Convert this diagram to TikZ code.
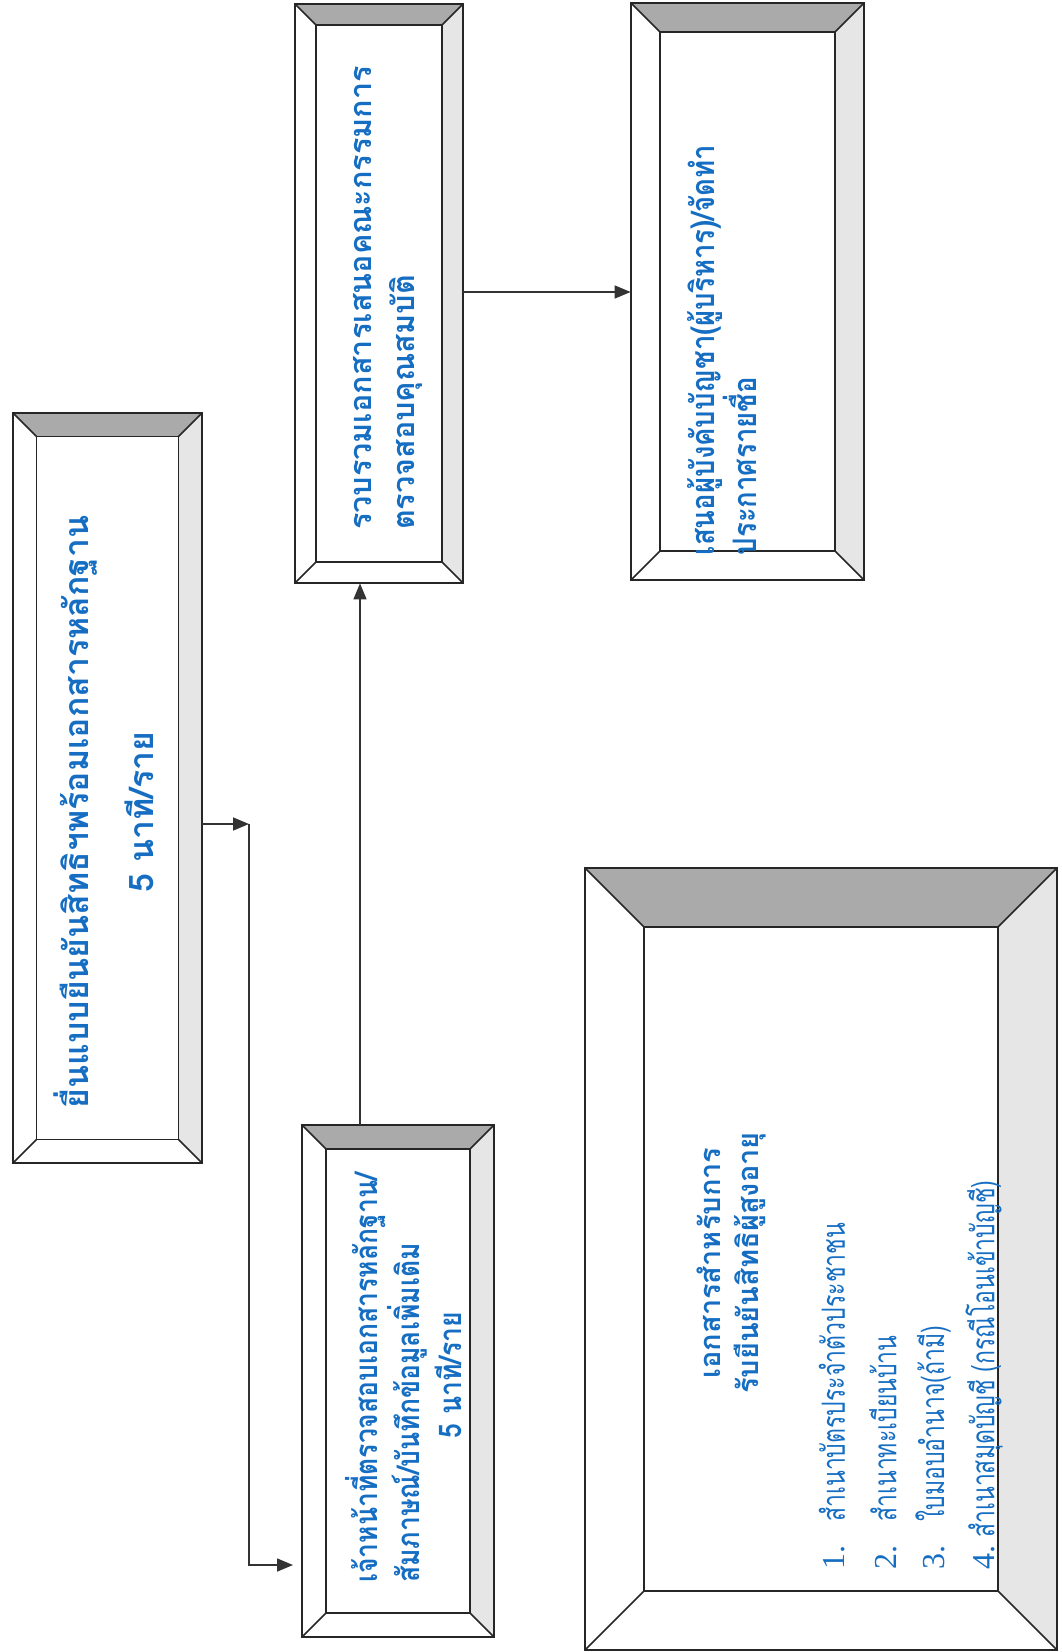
\documentclass[tikz,border=0pt]{standalone}
\usepackage{fontspec}
\newfontfamily\thai[Script=Thai]{Loma}
\newfontfamily\thain[Script=Thai,FakeStretch=0.85]{Loma}
\newfontfamily\thainn[Script=Thai,FakeStretch=0.72]{Loma}
\newfontfamily\numfont{Liberation Serif}
\usetikzlibrary{arrows.meta,fit,calc}

\definecolor{txtblue}{RGB}{22,110,195}
\definecolor{bevtop}{RGB}{170,170,170}
\definecolor{bevright}{RGB}{230,230,230}

% bold Thai text of a given size and line skip
\newcommand{\tb}[2]{\thai\bfseries\fontsize{#1}{#2}\selectfont}
\newcommand{\tbn}[2]{\thain\bfseries\fontsize{#1}{#2}\selectfont}

\tikzset{
  boxline/.style={draw=black!85, line width=0.8pt},
  txt/.style={rotate=90, text=txtblue, inner sep=0},
  listtxt/.style={rotate=90, text=txtblue, inner sep=0, anchor=west,
    font=\thainn\fontsize{16}{18}\selectfont},
  arr/.style={draw=black!80, line width=0.8pt,
    -{Triangle[length=8pt,width=6.5pt]}}
}

% bevel box: name, x1, y1, x2, y2 (pixels, y downwards)
\newcommand{\bevelbox}[5]{%
  \pgfmathsetmacro{\bw}{0.125*min(#4-#2,#5-#3)}
  \fill[white] (#2,#3) rectangle (#4,#5);
  \fill[bevtop] (#2,#3) -- (#4,#3) -- (#4-\bw,#3+\bw) -- (#2+\bw,#3+\bw) -- cycle;
  \fill[bevright] (#4,#3) -- (#4,#5) -- (#4-\bw,#5-\bw) -- (#4-\bw,#3+\bw) -- cycle;
  \draw[boxline] (#2,#3) rectangle (#4,#5);
  \draw[boxline] (#2+\bw,#3+\bw) rectangle (#4-\bw,#5-\bw);
  \draw[boxline] (#2,#3) -- (#2+\bw,#3+\bw) (#4,#3) -- (#4-\bw,#3+\bw)
    (#2,#5) -- (#2+\bw,#5-\bw) (#4,#5) -- (#4-\bw,#5-\bw);
  \node[fit={(#2,#3)(#4,#5)}, inner sep=0] (#1) {};
}

\begin{document}
\begin{tikzpicture}[x=0.5pt,y=-0.5pt]
  \fill[white] (0,0) rectangle (1061,1652);
  \useasboundingbox (0,0) rectangle (1061,1652);

  % boxes
  \bevelbox{submit}{13}{413}{202}{1163}
  \bevelbox{check}{302}{1125}{494}{1637}
  \bevelbox{collect}{295}{4}{463}{583}
  \bevelbox{propose}{631}{3}{864}{580}
  \bevelbox{docs}{585}{868}{1057}{1650}

  % texts
  \node[txt, align=center, font=\tb{16.9}{21}] (tsubmit) at (104,812)
    {ยื่นแบบยืนยันสิทธิฯพร้อมเอกสารหลักฐาน\\[11.5pt]5 นาที/ราย};
  \node[txt, align=left, font=\tbn{15.6}{17}] (tcheck) at (386,1378)
    {เจ้าหน้าที่ตรวจสอบเอกสารหลักฐาน/\\สัมภาษณ์/บันทึกข้อมูลเพิ่มเติม};
  \node[txt, font=\tbn{15.6}{17}] (tchecktime) at (448,1375) {5 นาที/ราย};
  \node[txt, align=left, font=\tb{15.3}{21.5}] (tcollect) at (388,298)
    {รวบรวมเอกสารเสนอคณะกรรมการ\\ตรวจสอบคุณสมบัติ};
  \node[txt, align=left, font=\tbn{16.2}{21}] (tpropose) at (722,350)
    {เสนอผู้บังคับบัญชา(ผู้บริหาร)/จัดทำ\\ประกาศรายชื่อ};
  \node[txt, align=center, font=\tb{14.5}{19}] (tdocs) at (731,1263)
    {เอกสารสำหรับการ\\รับยืนยันสิทธิผู้สูงอายุ};
  \node[listtxt] (item1) at (832,1570) {{\numfont 1.}\hspace{0.75em}สำเนาบัตรประจำตัวประชาชน};
  \node[listtxt] (item2) at (883,1570) {{\numfont 2.}\hspace{0.75em}สำเนาทะเบียนบ้าน};
  \node[listtxt] (item3) at (933,1570) {{\numfont 3.}\hspace{0.75em}ใบมอบอำนาจ(ถ้ามี)};
  \node[listtxt] (item4) at (984,1570) {{\numfont 4.}\hspace{0.25em}สำเนาสมุดบัญชี (กรณีโอนเข้าบัญชี)};

  % connectors
  \coordinate (bend) at (249,824);
  \coordinate (intocheck) at (293,1565);
  \coordinate (upline) at (360,0);
  \coordinate (sideline) at (0,292);
  \draw[arr] (submit.east |- bend) -- (bend);
  \draw[arr] (bend) |- (intocheck);
  \draw[arr] (check.north -| upline) -- (collect.south -| upline);
  \draw[arr] (collect.east |- sideline) -- (propose.west |- sideline);
\end{tikzpicture}
\end{document}
